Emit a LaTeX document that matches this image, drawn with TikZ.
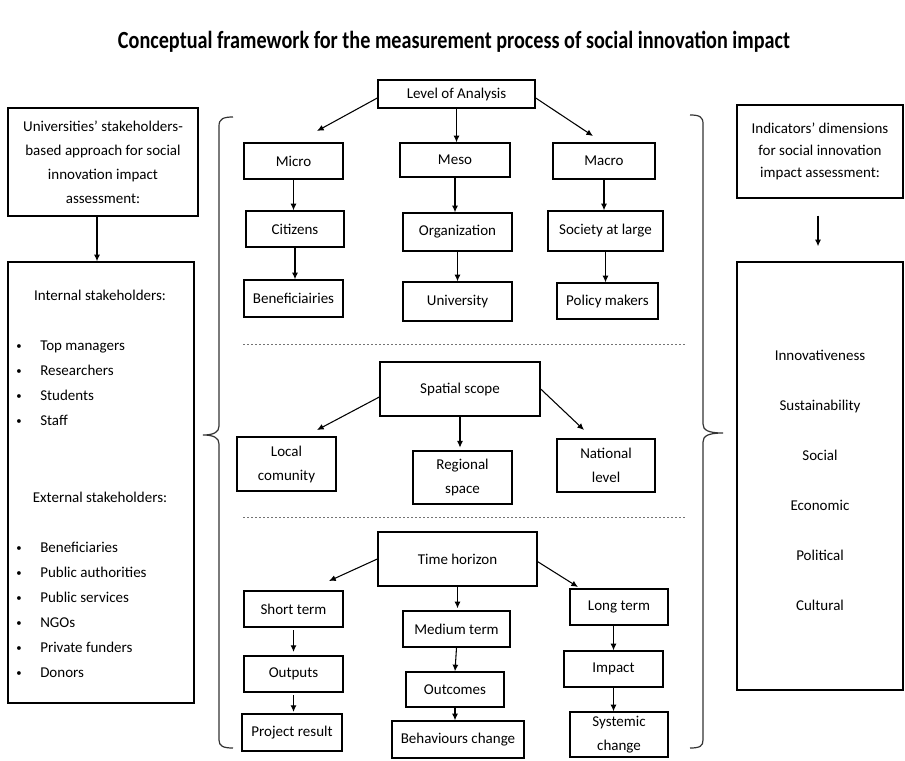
\documentclass[tikz,border=0pt]{standalone}
\usepackage{fontspec}
\usepackage{graphicx}
\setmainfont{Carlito}
\usetikzlibrary{arrows.meta,calc}
\tikzset{
 box/.style={draw=black, line width=1.05pt, inner sep=0pt, align=center, font=\fontsize{11.25}{14}\selectfont},
 two/.style={font=\fontsize{11.25}{18}\selectfont},
 arr/.style={draw=black, line width=0.8pt, -{Latex[length=5pt,width=4.5pt]}},
 brace/.style={draw=black!80, line width=0.9pt},
 sepline/.style={draw=black!55, line width=0.6pt, dash pattern=on 1.5pt off 1.5pt},
 txt/.style={inner sep=0pt, font=\fontsize{11.25}{14}\selectfont},
 bul/.style={inner sep=0pt, font=\fontsize{8}{8}\selectfont},
}
\newcommand{\pbox}[7][]{\node[box,#1, minimum width={(#5-#3)*0.75pt}, minimum height={(#6-#4)*0.75pt}] (#2) at ({(#3+#5)/2},{(#4+#6)/2}) {#7};}
\begin{document}
\begin{tikzpicture}[x=0.75pt,y=-0.75pt]
\useasboundingbox (0,0) rectangle (905,760);
% title
\node[inner sep=0pt, anchor=base] (title) at (454,48) {\resizebox{504pt}{13pt}{\bfseries Conceptual framework for the measurement process of social innovation impact}};
% level of analysis
\pbox{lev}{378}{80}{535}{108}{Level of Analysis}
\pbox{micro}{244}{143}{343}{179}{Micro}
\pbox{meso}{400}{143}{510}{177}{Meso}
\pbox{macro}{553}{143}{655}{179}{Macro}
\pbox{cit}{246}{211}{344}{247}{Citizens}
\pbox{org}{403}{213}{512}{251}{Organization}
\pbox{soc}{548}{211}{663}{251}{Society at large}
\pbox{ben}{244}{280}{343}{317}{Beneficiairies}
\pbox{uni}{403}{282}{512}{321}{University}
\pbox{pol}{557}{283}{658}{319}{Policy makers}
% spatial scope
\pbox{sp}{380}{362}{540}{416}{Spatial scope}
\pbox[two]{loc}{237}{437}{336}{491}{Local\\comunity}
\pbox[two]{reg}{413}{451}{512}{504}{Regional\\space}
\pbox[two]{nat}{557}{439}{655}{492}{National\\level}
% time horizon
\pbox{th}{378}{532}{537}{586}{Time horizon}
\pbox{st}{244}{591}{343}{627}{Short term}
\pbox{mt}{403}{611}{510}{647}{Medium term}
\pbox{lt}{570}{589}{668}{625}{Long term}
\pbox{outp}{244}{656}{343}{692}{Outputs}
\pbox{outc}{406}{672}{504}{707}{Outcomes}
\pbox{imp}{564}{651}{663}{687}{Impact}
\pbox{proj}{242}{714}{342}{751}{Project result}
\pbox{beh}{392}{721}{524}{758}{Behaviours change}
\pbox[two]{sys}{570}{712}{668}{757}{Systemic\\change}
% left side
\pbox[two]{ub}{8}{108}{198}{216}{Universities’ stakeholders-\\based approach for social\\innovation impact\\assessment:}
\pbox{sb}{8}{262}{194}{703}{}
\node[txt] (int) at (100,295) {Internal stakeholders:};
\foreach \t [count=\i] in {Top managers, Researchers, Students, Staff}{
  \node[bul, anchor=base] (ibul\i) at (19,{345+25*(\i-1)+4}) {•};
  \node[txt, anchor=base west] (itm\i) at (40,{345+25*(\i-1)+5}) {\t};
}
\node[txt] (ext) at (100,497) {External stakeholders:};
\foreach \t [count=\i] in {Beneficiaries, Public authorities, Public services, NGOs, Private funders, Donors}{
  \node[bul, anchor=base] (ebul\i) at (19,{547+25*(\i-1)+4}) {•};
  \node[txt, anchor=base west] (etm\i) at (40,{547+25*(\i-1)+5}) {\t};
}
% right side
\pbox[font=\fontsize{11.25}{16.5}\selectfont]{ib}{737}{105}{903}{198}{Indicators’ dimensions\\for social innovation\\impact assessment:}
\pbox{db}{737}{262}{903}{690}{}
\foreach \t [count=\i] in {Innovativeness, Sustainability, Social, Economic, Political, Cultural}{
  \node[txt, anchor=base] (dim\i) at (820,{355+50*(\i-1)+5}) {\t};
}
% connectors
\coordinate (e1) at (317,131);
\coordinate (e3) at (593,136);
\draw[arr] ([yshift=-3pt]lev.west) -- (e1);
\draw[arr] (lev.south) -- (lev.south |- meso.north);
\draw[arr] ([yshift=-3pt]lev.east) -- (e3);
\draw[arr] (micro.south) -- (micro.south |- cit.north);
\draw[arr] (cit.south) -- (cit.south |- ben.north);
\draw[arr] (meso.south) -- (meso.south |- org.north);
\draw[arr] (org.south) -- (org.south |- uni.north);
\draw[arr] (macro.south) -- (macro.south |- soc.north);
\draw[arr] (soc.south) -- (soc.south |- pol.north);
\coordinate (e4) at (317,430);
\coordinate (e5) at (584,430);
\draw[arr] ([yshift=-6pt]sp.west) -- (e4);
\draw[arr, shorten >=2pt] (sp.south) -- (sp.south |- reg.north);
\draw[arr] (sp.east) -- (e5);
\coordinate (e6) at (329,581);
\coordinate (e7) at (578,587);
\draw[arr] (th.west) -- (e6);
\draw[arr, shorten >=1.5pt] (th.south) -- (th.south |- mt.north);
\draw[arr] ([yshift=-2pt]th.east) -- (e7);
\draw[arr, shorten <=2pt, shorten >=2.5pt] (st.south) -- (st.south |- outp.north);
\draw[arr, shorten <=2pt, shorten >=1pt] (outp.south) -- (outp.south |- proj.north);
\draw[arr] (mt.south) -- (outc.north);
\draw[arr] (outc.south) -- (outc.south |- beh.north);
\draw[arr] (imp.north |- lt.south) -- (imp.north);
\draw[arr] (imp.south) -- (imp.south |- sys.north);
\draw[arr] ([xshift=-4.5pt]ub.south) -- ([xshift=-4.5pt]ub.south |- sb.north);
\draw[arr] ([xshift=-1.5pt,yshift=-12.75pt]ib.south) -- ([xshift=-1.5pt,yshift=11.25pt]db.north);
% separators
\draw[sepline] (243,344) -- (687,344);
\draw[sepline] (243,517) -- (687,517);
% braces
\draw[brace] (233,117) .. controls (223,117) and (219,119) .. (219,126) -- (219,426)
  .. controls (219,432) and (214,435) .. (203,435) .. controls (214,435) and (219,438) .. (219,444)
  -- (219,740) .. controls (219,746) and (223,748) .. (233,748);
\draw[brace] (690,115) .. controls (700,115) and (703,117) .. (703,124) -- (703,424)
  .. controls (703,430) and (708,433) .. (723,433) .. controls (708,433) and (703,436) .. (703,442)
  -- (703,740) .. controls (703,746) and (700,748) .. (690,748);
\end{tikzpicture}
\end{document}
